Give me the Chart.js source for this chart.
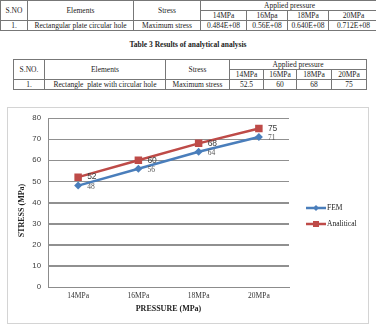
<!DOCTYPE html>
<html><head><meta charset="utf-8">
<script src="https://cdn.jsdelivr.net/npm/chart.js@4.4.0/dist/chart.umd.min.js"></script>
<style>
html,body{margin:0;padding:0;background:#fff;width:376px;height:325px;overflow:hidden;position:relative;font-family:"Liberation Serif","Times New Roman",serif;color:#222}
table{position:absolute;border-collapse:collapse;table-layout:fixed;font-size:7.5px;}
td{border:1px solid #777;padding:0;text-align:center;vertical-align:middle;white-space:nowrap;overflow:hidden;line-height:8px;height:9px}
#t1{left:0;top:0;width:378px}
#t2{left:13px;top:59px;width:353px}
#cap{position:absolute;left:0;width:376px;top:40px;text-align:center;font-weight:bold;font-size:7.5px}
#box{position:absolute;left:7px;top:107px;width:360px;height:215px;border:1px solid #d4d4d4}
#box canvas{position:absolute;left:0;top:0}
</style></head><body>
<table id="t1">
<colgroup><col style="width:27px"><col style="width:106px"><col style="width:67px"><col style="width:46px"><col style="width:41px"><col style="width:41px"><col style="width:50px"></colgroup>
<tr><td rowspan="2">S.NO</td><td rowspan="2">Elements</td><td rowspan="2">Stress</td><td colspan="4" id="t1ap"></td></tr>
<tr id="t1h"></tr>
<tr id="t1d"><td>1.</td><td>Rectangular plate circular hole</td><td>Maximum stress</td></tr>
</table>
<div id="cap">Table 3 Results of analytical analysis</div>
<table id="t2">
<colgroup><col style="width:31px"><col style="width:121px"><col style="width:64px"><col style="width:34px"><col style="width:33px"><col style="width:35px"><col style="width:35px"></colgroup>
<tr><td rowspan="2">S.NO.</td><td rowspan="2">Elements</td><td rowspan="2">Stress</td><td colspan="4" id="t2ap"></td></tr>
<tr id="t2h"></tr>
<tr id="t2d"><td>1.</td><td>Rectangle&nbsp; plate with circular hole</td><td>Maximum stress</td></tr>
</table>
<div id="box"><canvas id="c" width="360" height="215"></canvas></div>
<script>
// ---- data ----
const appliedLabel = "Applied pressure";
const table1Pressures = ["14MPa", "16Mpa", "18MPa", "20MPa"];
const table1Values = ["0.484E+08", "0.56E+08", "0.640E+08", "0.712E+08"];
const table2Pressures = ["14MPa", "16MPa", "18MPa", "20MPa"];
const table2Values = ["52.5", "60", "68", "75"];

const categories = ["14MPa", "16MPa", "18MPa", "20MPa"];
const femValues = [48, 56, 64, 71];
const analiticalValues = [52, 60, 68, 75];
const seriesNames = ["FEM", "Analitical"];
const yTicks = [0, 10, 20, 30, 40, 50, 60, 70, 80];

// ---- tables ----
function fillRow(id, arr){ const r=document.getElementById(id); arr.forEach(v=>{const td=document.createElement('td'); td.textContent=v; r.appendChild(td);}); }
document.getElementById('t1ap').textContent = appliedLabel;
document.getElementById('t2ap').textContent = appliedLabel;
fillRow('t1h', table1Pressures); fillRow('t1d', table1Values);
fillRow('t2h', table2Pressures); fillRow('t2d', table2Values);

// ---- chart ----
const blue = '#4a7ebb', red = '#be4b48';
const gridPlugin = {
  id: 'hgrid',
  beforeDatasetsDraw(chart){
    const ctx = chart.ctx, y = chart.scales.y, a = chart.chartArea;
    ctx.save();
    ctx.strokeStyle = '#909090'; ctx.lineWidth = 1;
    y.ticks.forEach(t => {
      if (t.value === yTicks[0]) return;
      const py = Math.round(y.getPixelForValue(t.value)) + 0.5;
      ctx.beginPath(); ctx.moveTo(a.left, py); ctx.lineTo(a.right, py); ctx.stroke();
    });
    ctx.restore();
  }
};
const labelPlugin = {
  id: 'labelsLegend',
  afterDatasetsDraw(chart){
    const ctx = chart.ctx;
    ctx.save();
    ctx.textBaseline = 'middle'; ctx.textAlign = 'left';
    chart.data.datasets.forEach((ds, i) => {
      const meta = chart.getDatasetMeta(i);
      ctx.font = i === 1 ? '8.5px "Liberation Sans", Arial, sans-serif' : '7.5px "Liberation Serif", serif';
      ctx.fillStyle = i === 1 ? '#404040' : '#555';
      meta.data.forEach((pt, j) => { ctx.fillText(String(ds.data[j]), pt.x + 9, pt.y + (i===1?0:1)); });
    });
    // legend
    const lx = 298, ly = [100, 116];
    chart.data.datasets.forEach((ds, i) => {
      ctx.strokeStyle = ds.borderColor; ctx.lineWidth = 2.5;
      ctx.beginPath(); ctx.moveTo(lx, ly[i]); ctx.lineTo(lx + 20, ly[i]); ctx.stroke();
      ctx.fillStyle = ds.borderColor;
      const cx = lx + 10;
      ctx.beginPath();
      if (i === 0) { ctx.moveTo(cx, ly[i]-3); ctx.lineTo(cx+3, ly[i]); ctx.lineTo(cx, ly[i]+3); ctx.lineTo(cx-3, ly[i]); ctx.closePath(); }
      else { ctx.rect(cx-3, ly[i]-3, 6, 6); }
      ctx.fill();
      ctx.fillStyle = '#222'; ctx.font = '7.5px "Liberation Serif", serif';
      ctx.fillText(ds.label, lx + 21, ly[i] + 0.5);
    });
    ctx.restore();
  }
};

new Chart(document.getElementById('c'), {
  type: 'line',
  data: {
    labels: categories,
    datasets: [
      { label: seriesNames[0], data: femValues, borderColor: blue, backgroundColor: blue, borderWidth: 2.5,
        pointStyle: 'rectRot', pointRadius: 4, pointBorderWidth: 0, tension: 0 },
      { label: seriesNames[1], data: analiticalValues, borderColor: red, backgroundColor: red, borderWidth: 2.5,
        pointStyle: 'rect', pointRadius: 5.3, pointBorderWidth: 0, tension: 0 }
    ]
  },
  options: {
    responsive: false, animation: false, devicePixelRatio: 1,
    layout: { padding: { left: 0, right: 79, top: 10, bottom: 0 } },
    plugins: { legend: { display: false }, tooltip: { enabled: false } },
    scales: {
      x: {
        offset: true,
        grid: { display: false, drawTicks: false },
        border: { display: true, color: '#8c8c8c', width: 1 },
        ticks: { color: '#333', padding: 5, font: { family: '"Liberation Serif", serif', size: 7.5 }, maxRotation: 0 },
        title: { display: true, text: 'PRESSURE (MPa)', color: '#222', padding: { top: 0, bottom: 9 },
                 font: { family: '"Liberation Serif", serif', size: 8, weight: 'bold', lineHeight: 1.2 } },
        afterFit(s){ s.height = 36; s.paddingLeft = 0; s.paddingRight = 0; }
      },
      y: {
        min: yTicks[0], max: yTicks[yTicks.length - 1],
        grid: { display: true, color: '#909090', lineWidth: 1, drawTicks: false, drawOnChartArea: true },
        border: { display: true, color: '#8c8c8c', width: 1 },
        ticks: { stepSize: yTicks[1] - yTicks[0], color: '#404040', padding: 7, font: { family: '"Liberation Sans", Arial, sans-serif', size: 7.8 } },
        title: { display: true, text: 'STRESS (MPa)\u00a0\u00a0\u00a0\u00a0\u00a0\u00a0\u00a0\u00a0', color: '#222', padding: { top: 9, bottom: 0 },
                 font: { family: '"Liberation Serif", serif', size: 8, weight: 'bold', lineHeight: 1.2 } },
        afterFit(s){ s.width = 40; s.paddingTop = 0; s.paddingBottom = 0; }
      }
    }
  },
  plugins: [gridPlugin, labelPlugin]
});
</script>
</body></html>
